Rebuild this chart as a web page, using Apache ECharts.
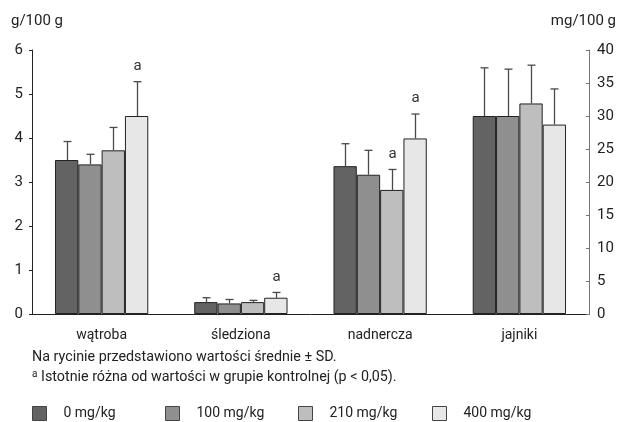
<!DOCTYPE html>
<html>
<head>
<meta charset="utf-8">
<script src="https://cdn.jsdelivr.net/npm/echarts@6/dist/echarts.min.js"></script>
<style>html,body{margin:0;padding:0;background:#fff}#c{width:621px;height:422px}</style>
</head>
<body>
<div id="c"></div>
<script>
// ---- data ----
const categories = ['wątroba', 'śledziona', 'nadnercza', 'jajniki'];
const doseNames = ['0 mg/kg', '100 mg/kg', '210 mg/kg', '400 mg/kg'];
// which y axis each category uses: 0 = g/100 g (left), 1 = mg/100 g (right)
const categoryAxis = [0, 0, 1, 1];
// means
const mean0   = [3.50, 0.27, 22.4, 30.0];
const mean100 = [3.40, 0.24, 21.1, 30.0];
const mean210 = [3.72, 0.27, 18.8, 31.9];
const mean400 = [4.50, 0.37, 26.6, 28.7];
// SD
const sd0   = [0.42, 0.10, 3.4, 7.3];
const sd100 = [0.23, 0.09, 3.7, 7.1];
const sd210 = [0.52, 0.04, 3.1, 5.8];
const sd400 = [0.78, 0.12, 3.7, 5.4];
// significance vs control (a)
const sig0   = [0, 0, 0, 0];
const sig100 = [0, 0, 0, 0];
const sig210 = [0, 0, 1, 0];
const sig400 = [1, 1, 1, 0];
// axis ticks
const leftTicks = { min: 0, max: 6, interval: 1 };
const rightTicks = { min: 0, max: 40, interval: 5 };

const means = [mean0, mean100, mean210, mean400];
const sds = [sd0, sd100, sd210, sd400];
const sigs = [sig0, sig100, sig210, sig400];
const colors = ['#636363', '#8f8f8f', '#bebebe', '#e7e7e7'];
const FONT = "Roboto, 'Liberation Sans', sans-serif";
const GAP = 0.33;

const series = [];
for (let ax = 0; ax < 2; ax++) {
  for (let g = 0; g < 4; g++) {
    series.push({
      name: doseNames[g],
      type: 'bar',
      yAxisIndex: ax,
      stack: 'dose' + g,
      barGap: '0%',
      barCategoryGap: (GAP * 100) + '%',
      itemStyle: { color: colors[g], borderColor: '#222', borderWidth: 1 },
      data: means[g].map((v, i) => categoryAxis[i] === ax ? v : null),
      silent: true,
      z: 2
    });
  }
}
for (let ax = 0; ax < 2; ax++) {
  const d = [];
  for (let g = 0; g < 4; g++) {
    for (let i = 0; i < categories.length; i++) {
      if (categoryAxis[i] === ax) d.push([i, g, means[g][i], means[g][i] + sds[g][i], sigs[g][i]]);
    }
  }
  series.push({
    type: 'custom',
    yAxisIndex: ax,
    z: 5,
    silent: true,
    data: d,
    renderItem: function (params, api) {
      const cat = api.value(0), g = api.value(1), m = api.value(2), t = api.value(3), s = api.value(4);
      const p0 = api.coord([cat, m]);
      const p1 = api.coord([cat, t]);
      const band = api.size([1, 0])[0];
      const bw = band * (1 - GAP) / 4;
      const x = Math.round(p0[0] + (g - 1.5) * bw) + 0.5;
      const st = { stroke: '#4a4a4a', lineWidth: 1.3 };
      const children = [
        { type: 'line', shape: { x1: x, y1: p0[1], x2: x, y2: p1[1] }, style: st },
        { type: 'line', shape: { x1: x - 4, y1: p1[1], x2: x + 4, y2: p1[1] }, style: st }
      ];
      if (s) {
        children.push({ type: 'text', style: { text: 'a', x: x, y: p1[1] - 8, align: 'center', verticalAlign: 'bottom', fontSize: 15, fontFamily: FONT, fill: '#333' } });
      }
      return { type: 'group', children: children };
    }
  });
}

function legendAt(i, left) {
  return {
    show: true, data: [doseNames[i]], left: left, top: 406, padding: 0,
    itemWidth: 14, itemHeight: 14, icon: 'rect', selectedMode: false,
    itemStyle: { borderColor: '#444', borderWidth: 1 },
    textStyle: { fontSize: 14, fontFamily: FONT, color: '#222', padding: [0, 0, 0, 12] }
  };
}

const chart = echarts.init(document.getElementById('c'), null, { renderer: 'canvas' });
chart.setOption({
  animation: false,
  backgroundColor: '#fff',
  textStyle: { fontFamily: FONT },
  grid: { left: 32, right: 32, top: 50, bottom: 108, containLabel: false },
  legend: [legendAt(0, 32), legendAt(1, 165), legendAt(2, 298), legendAt(3, 432)],
  xAxis: {
    type: 'category', data: categories,
    axisLine: { lineStyle: { color: '#222', width: 1 } },
    axisTick: { show: false },
    axisLabel: { fontSize: 14, color: '#222', fontFamily: FONT, margin: 14 }
  },
  yAxis: [
    {
      type: 'value', min: leftTicks.min, max: leftTicks.max, interval: leftTicks.interval, position: 'left',
      axisLine: { show: true, lineStyle: { color: '#222' } },
      axisTick: { show: true, length: 3, inside: false, lineStyle: { color: '#222' } },
      axisLabel: { fontSize: 15, color: '#222', fontFamily: FONT, margin: 9 },
      splitLine: { show: false }
    },
    {
      type: 'value', min: rightTicks.min, max: rightTicks.max, interval: rightTicks.interval, position: 'right',
      axisLine: { show: true, lineStyle: { color: '#777' } },
      axisTick: { show: true, length: 3, inside: true, lineStyle: { color: '#777' } },
      axisLabel: { fontSize: 15, color: '#222', fontFamily: FONT, margin: 8 },
      splitLine: { show: false }
    }
  ],
  graphic: [
    { type: 'text', left: 11, top: 14, style: { text: 'g/100 g', fontSize: 15, fontFamily: FONT, fill: '#222' } },
    { type: 'text', right: 5, top: 14, style: { text: 'mg/100 g', fontSize: 15, fontFamily: FONT, fill: '#222' } },
    { type: 'text', left: 32, top: 350, style: { text: 'Na rycinie przedstawiono wartości średnie ± SD.', fontSize: 14.3, fontFamily: FONT, fill: '#222' } },
    { type: 'text', left: 32, top: 369, style: { text: 'a', fontSize: 10, fontFamily: FONT, fill: '#222' } },
    { type: 'text', left: 41, top: 370, style: { text: 'Istotnie różna od wartości w grupie kontrolnej (p < 0,05).', fontSize: 14.3, fontFamily: FONT, fill: '#222' } }
  ],
  series: series
});
</script>
</body>
</html>
